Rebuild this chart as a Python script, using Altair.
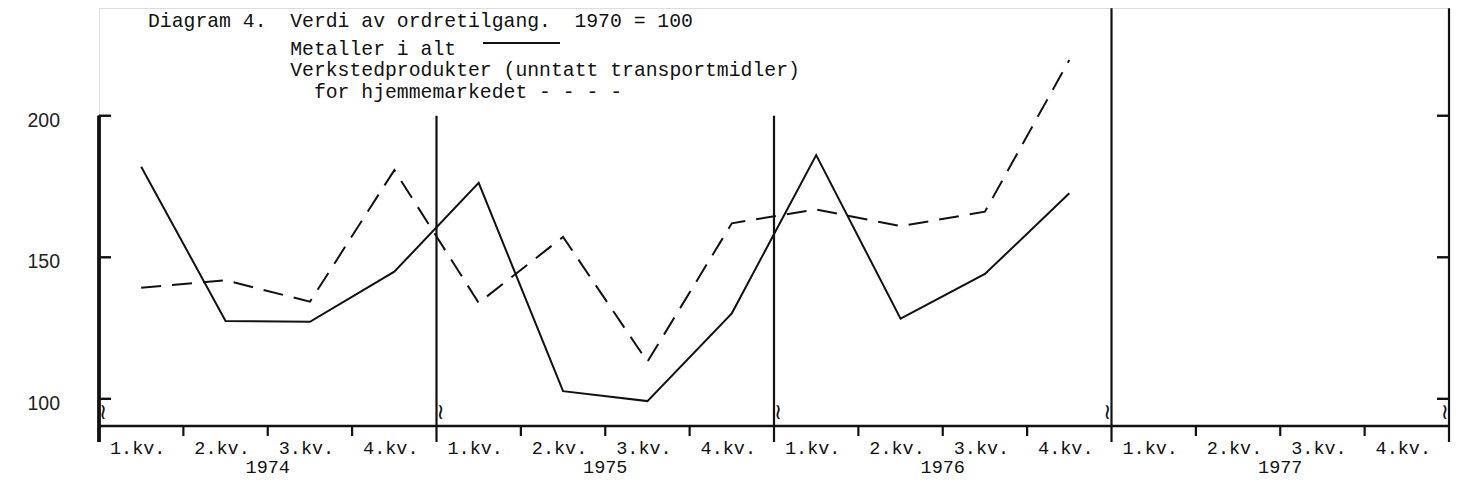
import altair as alt
import pandas as pd

# ---- data ----
kvartal = ["1.kv.", "2.kv.", "3.kv.", "4.kv."]
aar = ["1974", "1975", "1976", "1977"]
metaller = [182.0, 127.5, 127.2, 144.9, 176.3, 102.7, 99.2, 130.2, 186.1, 128.3, 144.1, 172.6]
verksted = [139.2, 141.9, 134.3, 180.8, 133.9, 157.2, 113.1, 162.0, 166.9, 161.0, 166.1, 219.7]
y_ticks = [100, 150, 200]
year_bounds = [0, 4, 8, 12, 16]
year_line_top = [200, 200, 200, 238, 238]

title_1a = "Diagram 4."
title_1b = "Verdi av ordretilgang."
title_1c = "1970 = 100"
title_2 = "Metaller i alt"
title_3 = "Verkstedprodukter (unntatt transportmidler)"
title_4 = "for hjemmemarkedet - - - -"

# ---- layout ----
W, H = 1350, 418
YMIN, YMAX = 90.4, 238.06
MONO = "Liberation Mono"
INK = "#111111"

xs = alt.Scale(domain=[0, 16], nice=False, zero=False)
ys = alt.Scale(domain=[YMIN, YMAX], nice=False, zero=False)

n_q = len(aar) * len(kvartal)
df_lines = pd.DataFrame({
    "pos": [i + 0.5 for i in range(len(metaller))],
    "metaller": metaller,
    "verksted": verksted,
})
df_years = pd.DataFrame({"b": year_bounds, "top": year_line_top})
df_qticks = pd.DataFrame({"q": [i for i in range(n_q) if i % len(kvartal) != 0]})
df_qlabels = pd.DataFrame({
    "pos": [i + 0.5 for i in range(n_q)],
    "label": [kvartal[i % len(kvartal)] for i in range(n_q)],
})
df_ylabels = pd.DataFrame({"pos": [j * len(kvartal) + len(kvartal) / 2 for j in range(len(aar))], "label": aar})
df_yt = pd.DataFrame({"v": y_ticks})
df_axis = pd.DataFrame({"a": [year_bounds[0]], "b": [year_bounds[-1]]})
df_break_r = pd.DataFrame({"b": year_bounds[:3]})
df_break_l = pd.DataFrame({"b": year_bounds[3:]})
one = alt.Data(values=[{}])

X = lambda f: alt.X(f, scale=xs, axis=None)
Y = lambda f: alt.Y(f, scale=ys, axis=None)

solid = alt.Chart(df_lines).mark_line(color=INK, strokeWidth=2).encode(
    x=X("pos:Q"), y=Y("metaller:Q"))
dashed = alt.Chart(df_lines).mark_line(color=INK, strokeWidth=2, strokeDash=[20, 11]).encode(
    x=X("pos:Q"), y=Y("verksted:Q"))

year_lines = alt.Chart(df_years).mark_rule(color=INK, strokeWidth=2.2).encode(
    x=X("b:Q"), y=Y("top:Q"), y2=alt.value(H + 16))
x_axis = alt.Chart(df_axis).mark_rule(color=INK, strokeWidth=2.6).encode(
    x=X("a:Q"), x2="b:Q", y=alt.value(H))
q_ticks = alt.Chart(df_qticks).mark_rule(color=INK, strokeWidth=2.2).encode(
    x=X("q:Q"), y=alt.value(H), y2=alt.value(H + 10))
left_ticks = alt.Chart(df_yt).mark_rule(color=INK, strokeWidth=2.4).encode(
    x=alt.X(datum=year_bounds[0], scale=xs, axis=None), x2=alt.value(12), y=Y("v:Q"))
right_ticks = alt.Chart(df_yt).mark_rule(color=INK, strokeWidth=2.4).encode(
    x=alt.X(datum=year_bounds[-1], scale=xs, axis=None), x2=alt.value(W - 12), y=Y("v:Q"))
left_axis = alt.Chart(df_yt).mark_rule(color=INK, strokeWidth=3).encode(
    x=alt.X(datum=year_bounds[0], scale=xs, axis=None), y=alt.Y(datum=max(y_ticks), scale=ys, axis=None),
    y2=alt.value(H + 16))

y_labels = alt.Chart(df_yt).mark_text(
    font="Liberation Sans", fontSize=19.5, color="#222", align="right", baseline="alphabetic", dx=-39, dy=11
).encode(x=alt.X(datum=year_bounds[0], scale=xs, axis=None), y=Y("v:Q"), text=alt.Text("v:Q", format="d"))

q_labels = alt.Chart(df_qlabels).mark_text(
    font=MONO, fontSize=18.5, color=INK, align="center", baseline="alphabetic", dx=-3.5
).encode(x=X("pos:Q"), y=alt.value(446), text="label:N")
yr_labels = alt.Chart(df_ylabels).mark_text(
    font=MONO, fontSize=18.5, color=INK, align="center", baseline="alphabetic"
).encode(x=X("pos:Q"), y=alt.value(465), text="label:N")

brk_r = alt.Chart(df_break_r).mark_text(
    text="≀", font="DejaVu Sans", fontSize=22, color=INK, align="left", baseline="middle", dx=0
).encode(x=X("b:Q"), y=alt.value(404))
brk_l = alt.Chart(df_break_l).mark_text(
    text="≀", font="DejaVu Sans", fontSize=22, color=INK, align="right", baseline="middle", dx=0
).encode(x=X("b:Q"), y=alt.value(404))

def ttxt(s, x, y):
    return alt.Chart(one).mark_text(
        text=s, font=MONO, fontSize=19.75, color=INK, align="left", baseline="alphabetic"
    ).encode(x=alt.value(x), y=alt.value(y))

legend_line = alt.Chart(one).mark_rule(color=INK, strokeWidth=1.8).encode(
    x=alt.value(384), x2=alt.value(461), y=alt.value(35))

chart = alt.layer(
    year_lines, left_axis, x_axis, q_ticks, left_ticks, right_ticks,
    solid, dashed, y_labels, q_labels, yr_labels, brk_r, brk_l,
    ttxt(title_1a, 49, 18.7), ttxt(title_1b, 191.2, 18.7), ttxt(title_1c, 475.4, 18.7),
    ttxt(title_2, 191.2, 47), legend_line, ttxt(title_3, 191.2, 68), ttxt(title_4, 214.9, 90),
).properties(
    width=W, height=H,
    autosize=alt.AutoSizeParams(type="none"),
    padding={"left": 91, "top": 0, "right": 4, "bottom": 52},
).configure_view(stroke=None).configure(background="white")

chart.save("out.html", embed_options={"renderer": "svg", "actions": False})
